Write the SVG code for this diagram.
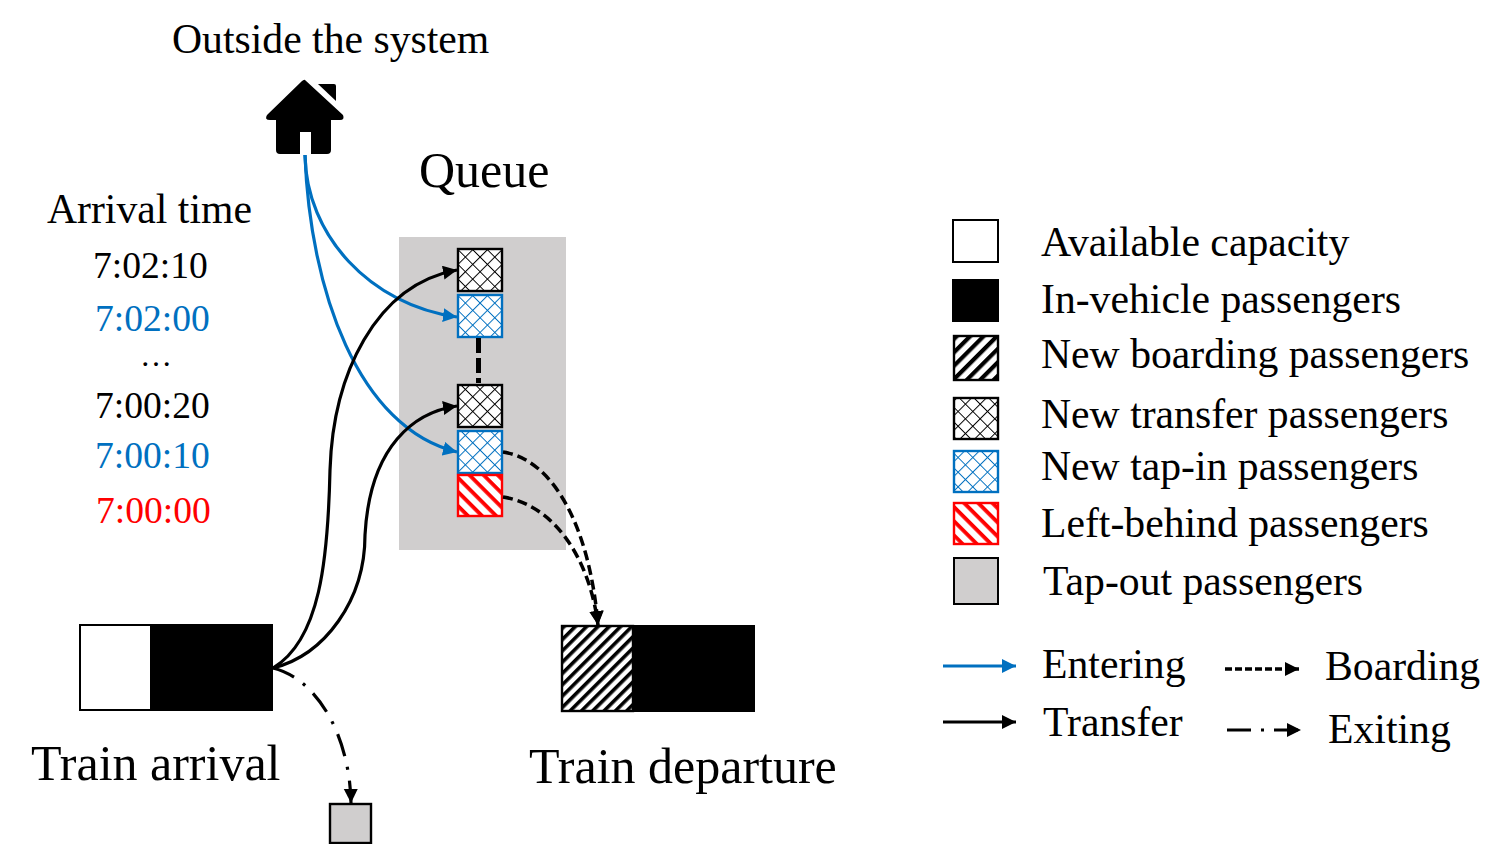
<svg xmlns="http://www.w3.org/2000/svg" width="1505" height="844" viewBox="0 0 1505 844">
<style>
text{font-family:"Liberation Serif","Times New Roman",serif;fill:#000}
.t40{font-size:41.700px}
.t38{font-size:37.600px}
.t50{font-size:50px}
.blue{fill:#0070c0}
.red{fill:#ff0000}
.c{fill:none;stroke-width:3.200}
.ent{stroke:#0070c0;marker-end:url(#ab)}
.tr{stroke:#000;marker-end:url(#ak)}
.bd{stroke:#000;stroke-width:3.500;stroke-dasharray:10 5;marker-end:url(#ak)}
.ex{stroke:#000;stroke-dasharray:23 11 3 11;marker-end:url(#ak)}
.bx{stroke-width:2.400}
</style>
<defs>
<marker id="ab" markerUnits="userSpaceOnUse" markerWidth="15" markerHeight="15" refX="14" refY="7" orient="auto"><path d="M0 0L14 7L0 14z" fill="#0070c0"/></marker>
<marker id="ak" markerUnits="userSpaceOnUse" markerWidth="15" markerHeight="15" refX="14" refY="7" orient="auto"><path d="M0 0L14 7L0 14z" fill="#000"/></marker>
<pattern id="xk" width="10.400" height="10.400" patternUnits="userSpaceOnUse" patternTransform="translate(458 249) rotate(45)"><rect width="10.400" height="10.400" fill="#fff"/><path d="M0 0H10.400M0 0V10.400" stroke="#000" stroke-width="2"/></pattern>
<pattern id="xb" width="10.400" height="10.400" patternUnits="userSpaceOnUse" patternTransform="translate(458 295) rotate(45)"><rect width="10.400" height="10.400" fill="#fff"/><path d="M0 0H10.400M0 0V10.400" stroke="#0070c0" stroke-width="2"/></pattern>
<pattern id="rd" width="10" height="10" patternUnits="userSpaceOnUse" patternTransform="translate(458 475) rotate(45)"><rect width="10" height="10" fill="#fff"/><rect width="10" height="3.800" fill="#ff0000"/></pattern>
<pattern id="bk" width="9.500" height="9.500" patternUnits="userSpaceOnUse" patternTransform="translate(954 336) rotate(45)"><rect width="9.500" height="9.500" fill="#fff"/><rect width="4.200" height="9.500" fill="#000"/></pattern>
<pattern id="bk2" width="8" height="8" patternUnits="userSpaceOnUse" patternTransform="translate(562 626) rotate(45)"><rect width="8" height="8" fill="#fff"/><rect width="3.600" height="8" fill="#000"/></pattern>
</defs>

<rect id="queue-area" x="399" y="237" width="167" height="313" fill="#d0cece"/>

<g id="labels">
<text class="t40" x="172" y="53">Outside the system</text>
<text x="419" y="187" font-size="50">Queue</text>
<text class="t40" x="47" y="223">Arrival time</text>
<text class="t38" x="93" y="278">7:02:10</text>
<text class="t38 blue" x="95" y="331">7:02:00</text>
<text x="140" y="366" font-size="32">…</text>
<text class="t38" x="95" y="418">7:00:20</text>
<text class="t38 blue" x="95" y="468">7:00:10</text>
<text class="t38 red" x="96" y="523">7:00:00</text>
<text class="t50" x="31" y="780">Train arrival</text>
<text class="t50" x="529" y="783">Train departure</text>
</g>

<g id="house">
<path d="M305 80L343 115Q345 120 340 120L331 120L331 150Q331 154 327 154L311 154L311 132L300 132L300 154L280 154Q276 154 276 150L276 120L270 120Q264 120 267 115L302 81Q305 79 305 80z" fill="#000"/>
<path d="M318 84L334 84Q336 84 336 86L336 101z" fill="#000"/>
</g>

<g id="queue-boxes">
<g id="q1"><rect class="bx" x="458" y="249" width="44" height="42" fill="url(#xk)" stroke="#000"/></g>
<g id="q2"><rect class="bx" x="458" y="295" width="44" height="42" fill="url(#xb)" stroke="#0070c0"/></g>
<g id="q3"><rect class="bx" x="458" y="385" width="44" height="42" fill="url(#xk)" stroke="#000"/></g>
<g id="q4"><rect class="bx" x="458" y="431" width="44" height="42" fill="url(#xb)" stroke="#0070c0"/></g>
<g id="q5"><rect class="bx" x="458" y="475" width="44" height="41" fill="url(#rd)" stroke="#ff0000"/></g>
</g>

<g id="train-arrival">
<rect x="80" y="625" width="71" height="85" fill="#fff" stroke="#000" stroke-width="2"/>
<rect x="151" y="625" width="121" height="85" fill="#000" stroke="#000" stroke-width="2"/>
</g>
<g id="train-departure">
<rect x="562" y="626" width="71" height="85" fill="url(#bk2)" stroke="#000" stroke-width="2.400"/>
<rect x="633" y="626" width="121" height="85" fill="#000" stroke="#000" stroke-width="2"/>
</g>
<g id="tap-out"><rect x="330" y="804" width="41" height="39" fill="#d0cece" stroke="#000" stroke-width="2.400"/></g>

<g id="connectors">
<path d="M478.500 338V383" fill="none" stroke="#000" stroke-width="5" stroke-dasharray="15 5"/>
<path class="c ent" d="M305 155C306 235 370 305 457 317"/>
<path class="c ent" d="M305 155C310 290 358 428 457 452"/>
<path class="c tr" d="M273 668C320 640 328 560 330 470C333 375 375 285 457 270"/>
<path class="c tr" d="M273 668C325 655 365 600 365 535C370 445 415 412 457 406"/>
<path class="c bd" d="M503 452C555 460 590 530 598 625"/>
<path class="c bd" d="M503 497C555 505 590 560 598 625"/>
<path class="c ex" d="M273 668C320 680 350 740 351 803"/>
</g>

<g id="legend">
<g id="l1"><rect x="953" y="220" width="45" height="42" fill="#fff" stroke="#000" stroke-width="2"/><text class="t40" x="1041" y="256">Available capacity</text></g>
<g id="l2"><rect x="953" y="280" width="45" height="41" fill="#000" stroke="#000" stroke-width="2"/><text class="t40" x="1041" y="313">In-vehicle passengers</text></g>
<g id="l3"><rect x="954" y="336" width="44" height="44" fill="url(#bk)" stroke="#000" stroke-width="2.400"/><text class="t40" x="1041" y="368">New boarding passengers</text></g>
<g id="l4"><rect x="954" y="398" width="44" height="41" fill="url(#xk)" stroke="#000" stroke-width="2.400"/><text class="t40" x="1041" y="428">New transfer passengers</text></g>
<g id="l5"><rect x="954" y="451" width="44" height="41" fill="url(#xb)" stroke="#0070c0" stroke-width="2.400"/><text class="t40" x="1041" y="480">New tap-in passengers</text></g>
<g id="l6"><rect x="954" y="503" width="44" height="41" fill="url(#rd)" stroke="#ff0000" stroke-width="2.400"/><text class="t40" x="1041" y="537">Left-behind passengers</text></g>
<g id="l7"><rect x="954" y="558" width="44" height="46" fill="#d0cece" stroke="#000" stroke-width="2"/><text class="t40" x="1043" y="595">Tap-out passengers</text></g>
<g id="l8"><path class="c ent" d="M943 666H1016"/><text class="t40" x="1042" y="678">Entering</text></g>
<g id="l9"><path class="c tr" d="M943 722H1016"/><text class="t40" x="1043" y="736">Transfer</text></g>
<g id="l10"><path class="c bd" d="M1225 669H1299" style="stroke-dasharray:7 3"/><text class="t40" x="1325" y="680">Boarding</text></g>
<g id="l11"><path class="c ex" d="M1227 730H1301" style="stroke-dasharray:24 10 3 10"/><text class="t40" x="1328" y="743">Exiting</text></g>
</g>
</svg>
